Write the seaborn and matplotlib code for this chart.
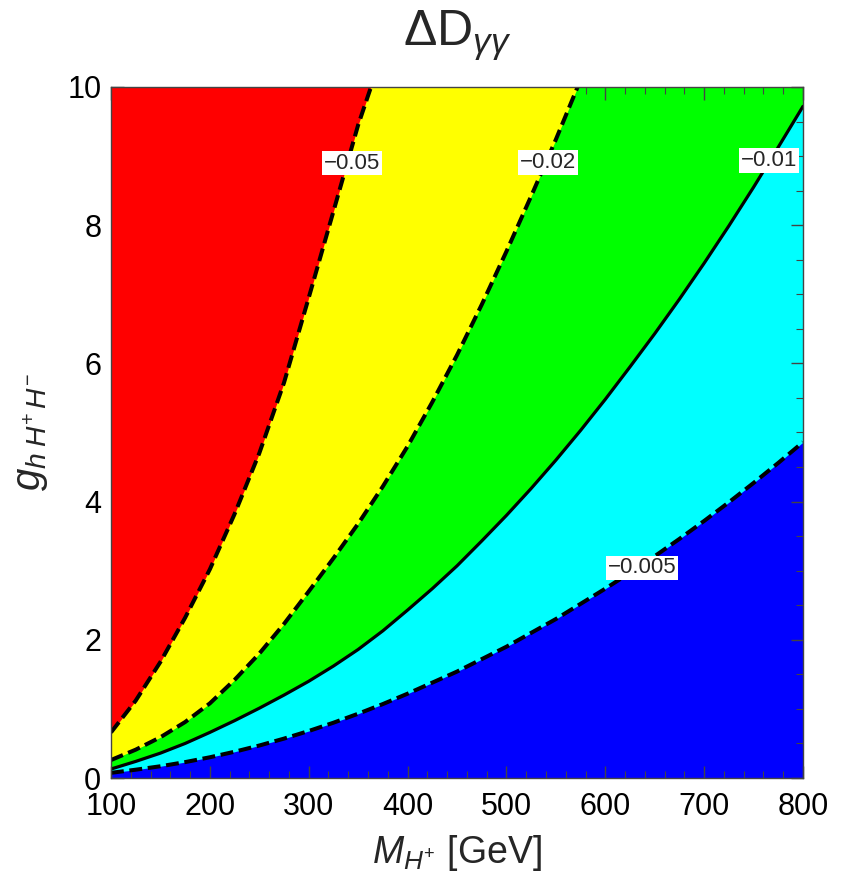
import numpy as np
import matplotlib
matplotlib.use("Agg")
import matplotlib.pyplot as plt
import seaborn as sns

# ---- data (boundary curves of each contour level) ----
levels = ["\u22120.05", "\u22120.02", "\u22120.01", "\u22120.005"]

m_c05 = [100, 125, 150, 175, 200, 225, 250, 275, 300, 325, 350, 363]
g_c05 = [0.66, 1.12, 1.68, 2.32, 3.02, 3.82, 4.70, 5.72, 6.95, 8.20, 9.45, 10.0]

m_c02 = [100, 125, 150, 175, 200, 225, 250, 275, 300, 325, 350, 375, 400, 425,
         450, 475, 500, 525, 550, 572]
g_c02 = [0.26, 0.41, 0.59, 0.81, 1.08, 1.42, 1.80, 2.23, 2.70, 3.18, 3.68, 4.22,
         4.80, 5.44, 6.12, 6.85, 7.62, 8.42, 9.24, 10.0]

m_c01 = [100, 125, 150, 175, 200, 225, 250, 275, 300, 325, 350, 375, 400, 425,
         450, 475, 500, 525, 550, 575, 600, 625, 650, 675, 700, 725, 750, 775, 800]
g_c01 = [0.13, 0.24, 0.36, 0.50, 0.66, 0.83, 1.01, 1.20, 1.40, 1.62, 1.86, 2.13,
         2.43, 2.74, 3.07, 3.43, 3.80, 4.19, 4.60, 5.03, 5.48, 5.95, 6.43, 6.93,
         7.45, 7.99, 8.55, 9.13, 9.72]

m_c005 = [100, 125, 150, 175, 200, 225, 250, 275, 300, 325, 350, 375, 400, 425,
          450, 475, 500, 525, 550, 575, 600, 625, 650, 675, 700, 725, 750, 775, 800]
g_c005 = [0.075, 0.12, 0.17, 0.23, 0.30, 0.38, 0.47, 0.57, 0.68, 0.80, 0.93, 1.07,
          1.22, 1.38, 1.54, 1.72, 1.90, 2.10, 2.30, 2.52, 2.74, 2.97, 3.21, 3.46,
          3.72, 3.99, 4.27, 4.56, 4.86]

label_m = [344, 542, 766, 637]
label_g = [8.9, 8.91, 8.94, 3.04]

x_ticks = [100, 200, 300, 400, 500, 600, 700, 800]
y_ticks = [0, 2, 4, 6, 8, 10]

# ---- style ----
sns.set_style("ticks")
plt.rcParams["font.family"] = ["Liberation Sans", "DejaVu Sans"]
plt.rcParams["mathtext.fontset"] = "custom"
plt.rcParams["mathtext.rm"] = "Liberation Sans"
plt.rcParams["mathtext.it"] = "Liberation Sans:italic"
plt.rcParams["mathtext.bf"] = "Liberation Sans:bold"

fig = plt.figure(figsize=(8.5, 8.84), dpi=100)
ax = fig.add_axes([111 / 850, 106 / 884, 692 / 850, 691 / 884])

# background (lowest band) and bands above each curve
ax.fill_between([100, 800], [0, 0], [10, 10], color="#0000FF", lw=0, zorder=0)
ax.fill_between(m_c005, g_c005, 10, color="#00FFFF", lw=0, zorder=0.2)
ax.fill_between(m_c01, g_c01, 10, color="#00FF00", lw=0, zorder=0.4)
ax.fill_between(m_c02, g_c02, 10, color="#FFFF00", lw=0, zorder=0.6)
ax.fill_between(m_c05, g_c05, 10, color="#FF0000", lw=0, zorder=0.8)

# contour lines
for m, g, ls in [(m_c05, g_c05, "--"), (m_c02, g_c02, "--"),
                 (m_c01, g_c01, "-"), (m_c005, g_c005, "--")]:
    sns.lineplot(x=m, y=g, ax=ax, color="black", linewidth=2.3,
                 estimator=None, sort=False, zorder=2)
    line = ax.lines[-1]
    line.set_solid_joinstyle("round")
    if ls == "--":
        line.set_linewidth(2.9)
        line.set_dashes([3.2, 1.4])

# contour labels
for lab, lm, lg in zip(levels, label_m, label_g):
    ax.text(lm, lg, lab, fontsize=16, ha="center", va="center", zorder=5,
            bbox=dict(facecolor="white", edgecolor="none", pad=1.3))

ax.set_xlim(100, 800)
ax.set_ylim(0, 10)
ax.set_xticks(x_ticks)
ax.set_yticks(y_ticks)
ax.set_xticks(np.arange(100, 801, 20), minor=True)
ax.set_yticks(np.arange(0, 10.01, 0.5), minor=True)
ax.tick_params(which="both", direction="in", top=True, right=True,
               colors="#444444", labelcolor="black", labelsize=22, zorder=6)
ax.tick_params(which="major", length=9, width=1.0, pad=7)
ax.tick_params(axis="x", which="major", pad=10)
ax.tick_params(which="minor", length=5, width=0.8)
for s in ax.spines.values():
    s.set_color("#444444")
    s.set_linewidth(1.0)
    s.set_zorder(6)

ax.set_xlabel(r"$M_{H^{+}}$ [GeV]", fontsize=27, labelpad=8)
ax.set_ylabel(r"$g_{h\;H^{+}\,H^{-}}$", fontsize=29, labelpad=12)
fig.text(457 / 850, 1 - 46 / 884, r"$\Delta\mathrm{D}_{\gamma\gamma}$",
         fontsize=36, ha="center", va="baseline")

fig.savefig("out.png", dpi=100)
